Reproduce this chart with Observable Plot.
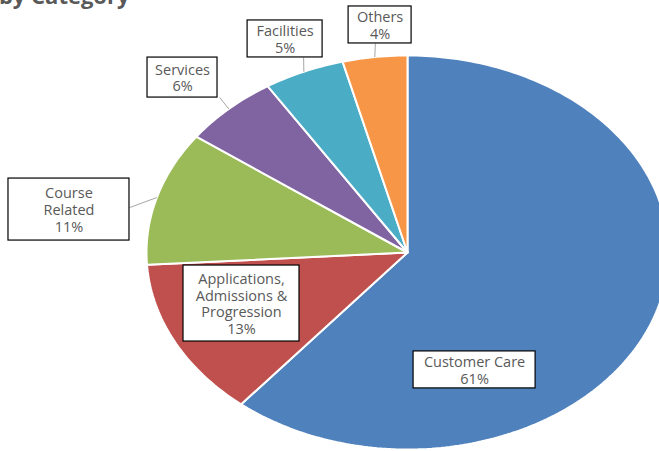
<!DOCTYPE html>
<html>
<head>
<meta charset="utf-8">
<script src="https://cdn.jsdelivr.net/npm/d3@7"></script>
<script src="https://cdn.jsdelivr.net/npm/@observablehq/plot@0.6"></script>
<style>
  html, body { margin: 0; padding: 0; background: #fff; }
  #chart svg { display: block; }
</style>
</head>
<body>
<div id="chart"></div>
<script>
// ---- data ----
const title = "by Category";
const categories = ["Customer Care", "Applications,\nAdmissions &\nProgression", "Course\nRelated", "Services", "Facilities", "Others"];
const values = [61, 13, 11, 6, 5, 4];
const colors = ["#4F81BD", "#C0504D", "#9BBB59", "#8064A2", "#4BACC6", "#F79646"];

// ---- layout (pie centre / radii in px, label placements in pie units) ----
const W = 659, H = 451;
const CX = 407, CY = 252, RX = 261, RY = 197;
const labelX = [0.257, -0.636, -1.297, -0.862, -0.469, -0.105];
const labelY = [-0.596, -0.259, 0.218, 0.888, 1.084, 1.155];
const boxW = [122, 116, 121, 70, 75, 63];
const boxH = [37, 76, 62, 40, 37, 37];
const leaderX = [null, null, -1.065, -0.720, -0.398, -0.123];
const leaderY = [null, null, 0.228, 0.787, 0.990, 1.061];

// ---- build slice polygons (angles clockwise from 12 o'clock) ----
const total = d3.sum(values);
const cum = d3.cumsum(values);
const slices = values.map((v, i) => ({
  name: categories[i],
  a0: ((cum[i] - v) / total) * 2 * Math.PI,
  a1: (cum[i] / total) * 2 * Math.PI,
  pct: Math.round((v / total) * 100)
}));
const pts = [];
for (const s of slices) {
  pts.push({name: s.name, x: 0, y: 0});
  const n = Math.max(2, Math.ceil((s.a1 - s.a0) / (Math.PI / 180)));
  for (let k = 0; k <= n; k++) {
    const a = s.a0 + (s.a1 - s.a0) * k / n;
    pts.push({name: s.name, x: Math.sin(a), y: Math.cos(a)});
  }
  pts.push({name: s.name, x: 0, y: 0});
}

const labels = slices.map((s, i) => ({
  text: s.name + "\n" + s.pct + "%",
  x: labelX[i], y: labelY[i],
  x1: labelX[i] - boxW[i] / 2 / RX, x2: labelX[i] + boxW[i] / 2 / RX,
  y1: labelY[i] - boxH[i] / 2 / RY, y2: labelY[i] + boxH[i] / 2 / RY
}));
const leaders = slices.map((s, i) => {
  const m = (s.a0 + s.a1) / 2;
  return {x1: leaderX[i], y1: leaderY[i], x2: Math.sin(m), y2: Math.cos(m)};
}).filter(d => d.x1 != null);

const chart = Plot.plot({
  width: W,
  height: H,
  margin: 0,
  style: {background: "#fff", fontFamily: "'Open Sans', sans-serif"},
  x: {domain: [-1, 1], range: [CX - RX, CX + RX], axis: null},
  y: {domain: [-1, 1], range: [CY + RY, CY - RY], axis: null},
  color: {domain: categories, range: colors},
  marks: [
    Plot.line(pts, {x: "x", y: "y", z: "name", fill: "name", stroke: "#fff", strokeWidth: 2, curve: "linear", strokeLinejoin: "miter"}),
    Plot.link(leaders, {x1: "x1", y1: "y1", x2: "x2", y2: "y2", stroke: "#a6a6a6", strokeWidth: 1}),
    Plot.rect(labels, {x1: "x1", x2: "x2", y1: "y1", y2: "y2", fill: "#fff", stroke: "#000", strokeWidth: 1.2}),
    Plot.text(labels, {x: "x", y: "y", text: "text", fill: "#595959", fontSize: 14.5, lineHeight: 1.15}),
    Plot.text([title], {frameAnchor: "top-left", dx: 129, dy: 3, textAnchor: "end", lineAnchor: "bottom", fontSize: 22, fontWeight: "bold", fill: "#595959"})
  ]
});
document.getElementById("chart").appendChild(chart);
</script>
</body>
</html>
